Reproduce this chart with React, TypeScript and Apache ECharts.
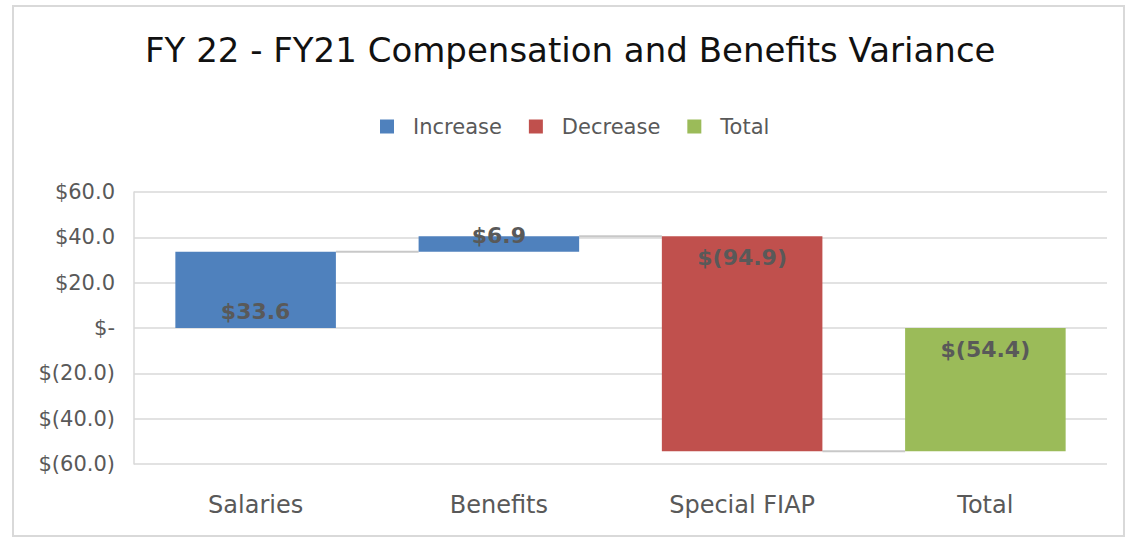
import React, { useEffect, useRef } from "react";
import * as echarts from "echarts";

const categories = ["Salaries", "Benefits", "Special FIAP", "Total"];
const increase: (number | null)[] = [33.6, 6.9, null, null];
const decrease: (number | null)[] = [null, null, -94.9, null];
const total: (number | null)[] = [null, null, null, -54.4];
const yTicks = { min: -60, max: 60, interval: 20 };

const FONT = "'DejaVu Sans', sans-serif";
const GRAY = "#595959";

function money(v: number): string {
  if (Math.abs(v) < 1e-9) return "$-";
  const s = Math.abs(v).toFixed(1);
  return v < 0 ? `$(${s})` : `$${s}`;
}

export default function App() {
  const ref = useRef<HTMLDivElement>(null);
  useEffect(() => {
    if (!ref.current) return;
    const chart = echarts.init(ref.current, null, { renderer: "svg" });

    // running totals: start of each bar and end levels
    const deltas = categories.map((_, i) => (increase[i] ?? 0) + (decrease[i] ?? 0));
    const base: number[] = [];
    const ends: number[] = [];
    let run = 0;
    categories.forEach((_, i) => {
      if (total[i] != null) {
        base.push(0);
        ends.push(total[i] as number);
      } else {
        base.push(run);
        run += deltas[i];
        ends.push(run);
      }
    });
    const connectors = ends.slice(0, -1).map((v, i) => [i, v]);

    const labelCfg: Record<string, any> = {
      Salaries: { position: "insideBottom", distance: 6 },
      Benefits: { position: "inside", offset: [0, -9] },
      "Special FIAP": { position: "insideTop", distance: 10 },
      Total: { position: "insideTop", distance: 10 },
    };

    const mk = (arr: (number | null)[]) =>
      arr.map((v, i) => ({
        value: v == null ? 0 : v,
        label: v == null ? { show: false } : { show: true, ...labelCfg[categories[i]] },
      }));

    const barLabel = {
      fontFamily: FONT,
      fontSize: 22,
      fontWeight: "bold" as const,
      color: GRAY,
      formatter: (p: any) => (p.value === 0 ? "" : money(p.value)),
    };

    const BAR_W = 0.66;

    chart.setOption({
      animation: false,
      backgroundColor: "#fff",
      title: {
        text: "FY 22 - FY21 Compensation and Benefits Variance",
        left: 140,
        top: 28,
        textStyle: { fontFamily: FONT, fontSize: 34, fontWeight: "normal", color: "#111" },
      },
      legend: {
        data: ["Increase", "Decrease", "Total"],
        top: 111,
        left: 375,
        icon: "rect",
        itemWidth: 14,
        itemHeight: 14,
        itemGap: 27,
        textStyle: { fontFamily: FONT, fontSize: 21, color: GRAY, padding: [0, 0, 0, 14] },
      },
      grid: { left: 134, right: 24, top: 192, bottom: 76 },
      xAxis: {
        type: "category",
        data: categories,
        axisLine: { show: false },
        axisTick: { show: false },
        axisLabel: { fontFamily: FONT, fontSize: 24, color: GRAY, margin: 29 },
      },
      yAxis: {
        type: "value",
        min: yTicks.min,
        max: yTicks.max,
        interval: yTicks.interval,
        axisLine: { show: true, lineStyle: { color: "#d9d9d9", width: 1.5 } },
        axisTick: { show: false },
        splitLine: { lineStyle: { color: "#d9d9d9", width: 1.5 } },
        axisLabel: { fontFamily: FONT, fontSize: 21, color: GRAY, margin: 19, formatter: (v: number) => money(v) },
      },
      graphic: [
        {
          type: "rect",
          shape: { x: 13, y: 6, width: 1111, height: 530 },
          style: { fill: "none", stroke: "#d9d9d9", lineWidth: 2 },
          silent: true,
        },
      ],
      series: [
        {
          name: "base",
          type: "bar",
          stack: "wf",
          stackStrategy: "all",
          barWidth: "66%",
          itemStyle: { color: "transparent" },
          data: base,
          silent: true,
        },
        {
          name: "Increase",
          type: "bar",
          stack: "wf",
          stackStrategy: "all",
          barWidth: "66%",
          itemStyle: { color: "#4f81bd" },
          label: barLabel,
          data: mk(increase),
        },
        {
          name: "Decrease",
          type: "bar",
          stack: "wf",
          stackStrategy: "all",
          barWidth: "66%",
          itemStyle: { color: "#c0504d" },
          label: barLabel,
          data: mk(decrease),
        },
        {
          name: "Total",
          type: "bar",
          stack: "wf",
          stackStrategy: "all",
          barWidth: "66%",
          itemStyle: { color: "#9bbb59" },
          label: barLabel,
          data: mk(total),
        },
        {
          name: "connector",
          type: "custom",
          silent: true,
          z: 1,
          data: connectors,
          renderItem: (params: any, api: any) => {
            const p = api.coord([api.value(0), api.value(1)]);
            const band = api.size([1, 0])[0];
            const half = (band * BAR_W) / 2;
            return {
              type: "line",
              shape: { x1: p[0] + half, y1: p[1], x2: p[0] + band - half, y2: p[1] },
              style: { stroke: "#c8c8c8", lineWidth: 2 },
            };
          },
        },
      ],
    });
    return () => chart.dispose();
  }, []);
  return <div ref={ref} style={{ position: "absolute", left: 0, top: 0, width: 1131, height: 540 }} />;
}
